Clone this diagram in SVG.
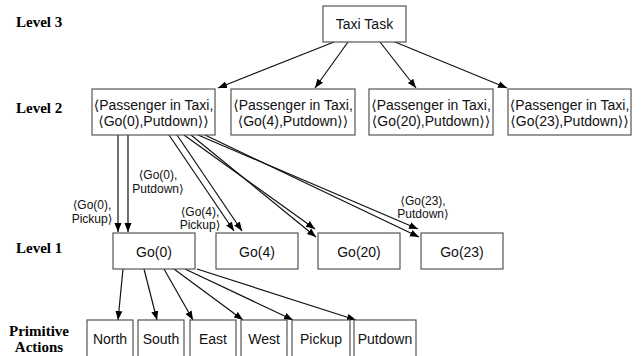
<svg xmlns="http://www.w3.org/2000/svg" width="642" height="356" viewBox="0 0 642 356">
<defs>
<marker id="ah" markerUnits="userSpaceOnUse" markerWidth="10" markerHeight="8" refX="9" refY="4" orient="auto">
<path d="M0,0.5 L9,4 L0,7.5 Z" fill="#000"/>
</marker>
<style>
.box{fill:#fff;stroke:#555;stroke-width:1.2}
.t{font-family:"Liberation Sans","DejaVu Sans",Arial,sans-serif;font-size:14px;fill:#111;text-anchor:middle}
.lb{font-family:"Liberation Sans","DejaVu Sans",Arial,sans-serif;font-size:12px;fill:#111;text-anchor:middle}
.lv{font-family:"Liberation Serif","Times New Roman",serif;font-size:15px;font-weight:bold;fill:#000}
.c line{stroke:#111;stroke-width:1.2;marker-end:url(#ah)}
</style>
</defs>
<rect width="642" height="356" fill="#fff"/>
<g id="levels">
<text class="lv" x="16" y="27">Level 3</text>
<text class="lv" x="16" y="113">Level 2</text>
<text class="lv" x="16" y="253">Level 1</text>
<text class="lv" x="39" y="336" text-anchor="middle">Primitive</text>
<text class="lv" x="39" y="352" text-anchor="middle">Actions</text>
</g>
<g class="c" id="connectors">
<line x1="334" y1="42" x2="218" y2="88"/>
<line x1="348" y1="42" x2="315" y2="88"/>
<line x1="380" y1="42" x2="416" y2="88"/>
<line x1="395" y1="42" x2="507" y2="88"/>
<line x1="118" y1="135" x2="118" y2="232"/>
<line x1="128" y1="135" x2="128" y2="232"/>
<line x1="169" y1="135" x2="234" y2="231"/>
<line x1="177" y1="135" x2="242" y2="231"/>
<line x1="184" y1="135" x2="315" y2="229"/>
<line x1="191" y1="135" x2="316" y2="237"/>
<line x1="198" y1="135" x2="418" y2="229"/>
<line x1="205" y1="135" x2="419" y2="237"/>
<line x1="123" y1="269" x2="118" y2="320"/>
<line x1="144" y1="269" x2="157" y2="320"/>
<line x1="164" y1="269" x2="193" y2="320"/>
<line x1="174" y1="269" x2="243" y2="320"/>
<line x1="185" y1="269" x2="293" y2="320"/>
<line x1="197" y1="269" x2="356" y2="320"/>
</g>
<g id="edge-labels">
<text class="lb" x="92" y="209">⟨Go(0),</text>
<text class="lb" x="92" y="223">Pickup⟩</text>
<text class="lb" x="158" y="179">⟨Go(0),</text>
<text class="lb" x="158" y="193">Putdown⟩</text>
<text class="lb" x="200" y="216">⟨Go(4),</text>
<text class="lb" x="200" y="229">Pickup⟩</text>
<text class="lb" x="423" y="205">⟨Go(23),</text>
<text class="lb" x="423" y="218">Putdown⟩</text>
</g>
<g id="taxi"><rect class="box" x="323" y="6" width="83" height="36"/><text class="t" x="364.5" y="29">Taxi Task</text></g>
<g id="l2a"><rect class="box" x="92" y="89" width="123" height="46"/><text class="t" x="153.5" y="110">⟨Passenger in Taxi,</text><text class="t" x="153.5" y="126">⟨Go(0),Putdown⟩⟩</text></g>
<g id="l2b"><rect class="box" x="231" y="89" width="124" height="46"/><text class="t" x="293" y="110">⟨Passenger in Taxi,</text><text class="t" x="293" y="126">⟨Go(4),Putdown⟩⟩</text></g>
<g id="l2c"><rect class="box" x="369" y="89" width="124" height="46"/><text class="t" x="431" y="110">⟨Passenger in Taxi,</text><text class="t" x="431" y="126">⟨Go(20),Putdown⟩⟩</text></g>
<g id="l2d"><rect class="box" x="508" y="89" width="123" height="46"/><text class="t" x="569.5" y="110">⟨Passenger in Taxi,</text><text class="t" x="569.5" y="126">⟨Go(23),Putdown⟩⟩</text></g>
<g id="go0"><rect class="box" x="113" y="233" width="82" height="36"/><text class="t" x="154" y="257">Go(0)</text></g>
<g id="go4"><rect class="box" x="216" y="233" width="82" height="36"/><text class="t" x="257" y="257">Go(4)</text></g>
<g id="go20"><rect class="box" x="318" y="233" width="82" height="36"/><text class="t" x="359" y="257">Go(20)</text></g>
<g id="go23"><rect class="box" x="421" y="233" width="82" height="36"/><text class="t" x="462" y="257">Go(23)</text></g>
<g id="north"><rect class="box" x="87" y="320" width="46" height="40"/><text class="t" x="110" y="344">North</text></g>
<g id="south"><rect class="box" x="138" y="320" width="46" height="40"/><text class="t" x="161" y="344">South</text></g>
<g id="east"><rect class="box" x="190" y="320" width="46" height="40"/><text class="t" x="213" y="344">East</text></g>
<g id="west"><rect class="box" x="241" y="320" width="46" height="40"/><text class="t" x="264" y="344">West</text></g>
<g id="pickup"><rect class="box" x="292" y="320" width="58" height="40"/><text class="t" x="321" y="344">Pickup</text></g>
<g id="putdown"><rect class="box" x="354" y="320" width="62" height="40"/><text class="t" x="385" y="344">Putdown</text></g>
</svg>
